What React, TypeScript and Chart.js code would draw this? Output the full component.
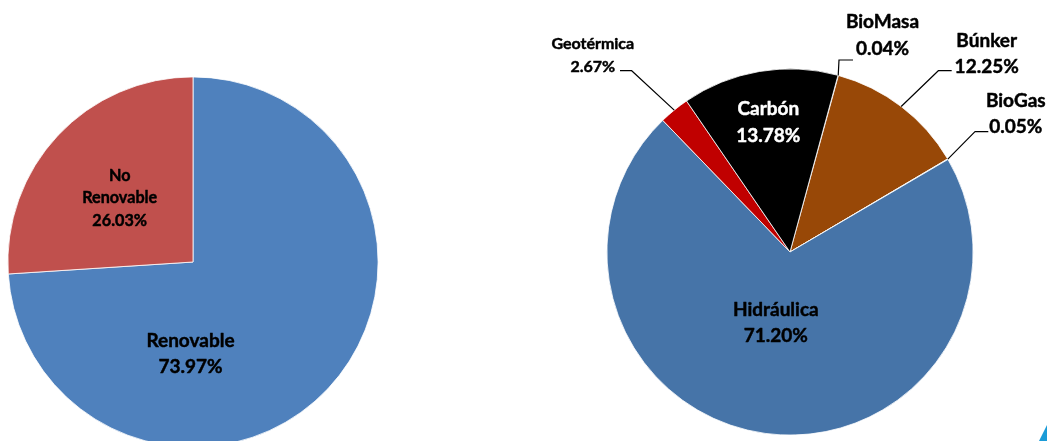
import React, { useEffect, useRef } from "react";
import { Chart, registerables } from "chart.js";

Chart.register(...registerables);

// ---- Data: left pie (renewable vs non-renewable) ----
const mixCategories = ["Renovable", "No Renovable"];
const mixValues = [73.97, 26.03];
const mixColors = ["#4F81BD", "#C0504D"];
const mixLabelLines = [["Renovable"], ["No", "Renovable"]];

// ---- Data: right pie (sources) ----
const sourceCategories = ["BioMasa", "Búnker", "BioGas", "Hidráulica", "Geotérmica", "Carbón"];
const sourceValues = [0.04, 12.25, 0.05, 71.2, 2.67, 13.78];
const sourceColors = ["#8064A2", "#984807", "#4BACC6", "#4674A8", "#C00000", "#000000"];
const sourceLabelLines = [["BioMasa"], ["Búnker"], ["BioGas"], ["Hidráulica"], ["Geotérmica"], ["Carbón"]];

// ---- Label layout (offsets from pie centre, px) ----
type LabelLayout = {
  dx: number;
  dy: number;
  lh: number;
  size: number;
  color: string;
  leader?: { ex: number; ey: number; hx: number };
};

const mixLayout: LabelLayout[] = [
  { dx: -2.5, dy: 84.7, lh: 26.6, size: 19, color: "#000000" },
  { dx: -73.3, dy: -81.3, lh: 22.5, size: 16.2, color: "#000000" },
];

const sourceLayout: LabelLayout[] = [
  { dx: 92.5, dy: -223.7, lh: 26.7, size: 19, color: "#000000", leader: { ex: 49, ey: -192, hx: 63 } },
  { dx: 196.7, dy: -205.3, lh: 26.0, size: 19, color: "#000000", leader: { ex: 148.3, ey: -181.3, hx: 161.7 } },
  { dx: 225.8, dy: -145.3, lh: 26.6, size: 19, color: "#000000", leader: { ex: 185, ey: -120.3, hx: 198.3 } },
  { dx: -14.2, dy: 63.7, lh: 26.0, size: 19, color: "#000000" },
  { dx: -197.2, dy: -202.7, lh: 22.4, size: 16, color: "#000000", leader: { ex: -158.3, ey: -181.3, hx: -170 } },
  { dx: -21.7, dy: -137, lh: 26.7, size: 19, color: "#FFFFFF" },
];

const FONT = "Lato, 'Open Sans', sans-serif";

function makeLabelPlugin(layout: LabelLayout[], lines: string[][]) {
  return {
    id: "sliceLabels",
    afterDatasetsDraw(chart: any) {
      const ctx: CanvasRenderingContext2D = chart.ctx;
      const meta = chart.getDatasetMeta(0);
      const data = chart.data.datasets[0].data as number[];
      ctx.save();
      meta.data.forEach((arc: any, i: number) => {
        const L = layout[i];
        if (!L) return;
        const p = arc.getProps(["x", "y", "startAngle", "endAngle", "outerRadius"], true);
        const cx = p.x;
        const cy = p.y;
        if (L.leader) {
          const mid = (p.startAngle + p.endAngle) / 2;
          const sx = cx + Math.cos(mid) * p.outerRadius;
          const sy = cy + Math.sin(mid) * p.outerRadius;
          ctx.beginPath();
          ctx.moveTo(sx, sy);
          ctx.lineTo(cx + L.leader.ex, cy + L.leader.ey);
          ctx.lineTo(cx + L.leader.hx, cy + L.leader.ey);
          ctx.strokeStyle = "#000000";
          ctx.lineWidth = 1.2;
          ctx.stroke();
        }
        const textLines = [...lines[i], `${data[i].toFixed(2)}%`];
        ctx.font = `bold ${L.size}px ${FONT}`;
        ctx.fillStyle = L.color;
        ctx.strokeStyle = L.color;
        ctx.lineWidth = 0.45;
        ctx.lineJoin = "round";
        ctx.textAlign = "center";
        ctx.textBaseline = "alphabetic";
        textLines.forEach((t, k) => {
          const tx = cx + L.dx;
          const ty = cy + L.dy + k * L.lh;
          ctx.fillText(t, tx, ty);
          ctx.strokeText(t, tx, ty);
        });
      });
      ctx.restore();
    },
  };
}

function PieCanvas(props: {
  left: number;
  top: number;
  width: number;
  height: number;
  padding: { left: number; top: number; right: number; bottom: number };
  labels: string[];
  values: number[];
  colors: string[];
  rotation: number;
  layout: LabelLayout[];
  lines: string[][];
}) {
  const ref = useRef<HTMLCanvasElement | null>(null);
  useEffect(() => {
    let chart: Chart | null = null;
    let cancelled = false;
    const build = () => {
      if (cancelled || !ref.current) return;
      chart = new Chart(ref.current, {
        type: "pie",
        data: {
          labels: props.labels,
          datasets: [
            {
              data: props.values,
              backgroundColor: props.colors,
              borderColor: "#FFFFFF",
              borderWidth: 0.8,
            },
          ],
        },
        options: {
          responsive: false,
          maintainAspectRatio: false,
          animation: false,
          events: [],
          rotation: props.rotation,
          layout: { padding: props.padding },
          plugins: {
            legend: { display: false },
            tooltip: { enabled: false },
            title: { display: false },
          },
        },
        plugins: [makeLabelPlugin(props.layout, props.lines)],
      });
    };
    const fonts = (document as any).fonts;
    if (fonts && fonts.load) {
      Promise.all([fonts.load(`bold 18px Lato`), fonts.load(`bold 15px Lato`)])
        .catch(() => null)
        .then(build);
    } else {
      build();
    }
    return () => {
      cancelled = true;
      if (chart) chart.destroy();
    };
  }, []);
  return (
    <canvas
      ref={ref}
      width={props.width}
      height={props.height}
      style={{
        position: "absolute",
        left: props.left,
        top: props.top,
        width: props.width,
        height: props.height,
      }}
    />
  );
}

export default function App() {
  return (
    <div
      style={{
        position: "fixed",
        left: 0,
        top: 0,
        width: 1047,
        height: 441,
        overflow: "hidden",
        background: "#FFFFFF",
      }}
    >
      <PieCanvas
        left={0}
        top={0}
        width={520}
        height={460}
        padding={{ left: 7.5, top: 76.5, right: 141.5, bottom: 12.5 }}
        labels={mixCategories}
        values={mixValues}
        colors={mixColors}
        rotation={0}
        layout={mixLayout}
        lines={mixLabelLines}
      />
      <PieCanvas
        left={520}
        top={0}
        width={527}
        height={441}
        padding={{ left: 86.5, top: 68.5, right: 73.5, bottom: 5.5 }}
        labels={sourceCategories}
        values={sourceValues}
        colors={sourceColors}
        rotation={15.2}
        layout={sourceLayout}
        lines={sourceLabelLines}
      />
      <div
        style={{
          position: "absolute",
          left: 1039,
          top: 425,
          width: 8,
          height: 16,
          background: "#1B9BD7",
          clipPath: "polygon(100% 0, 100% 100%, 0 100%)",
        }}
      />
    </div>
  );
}
